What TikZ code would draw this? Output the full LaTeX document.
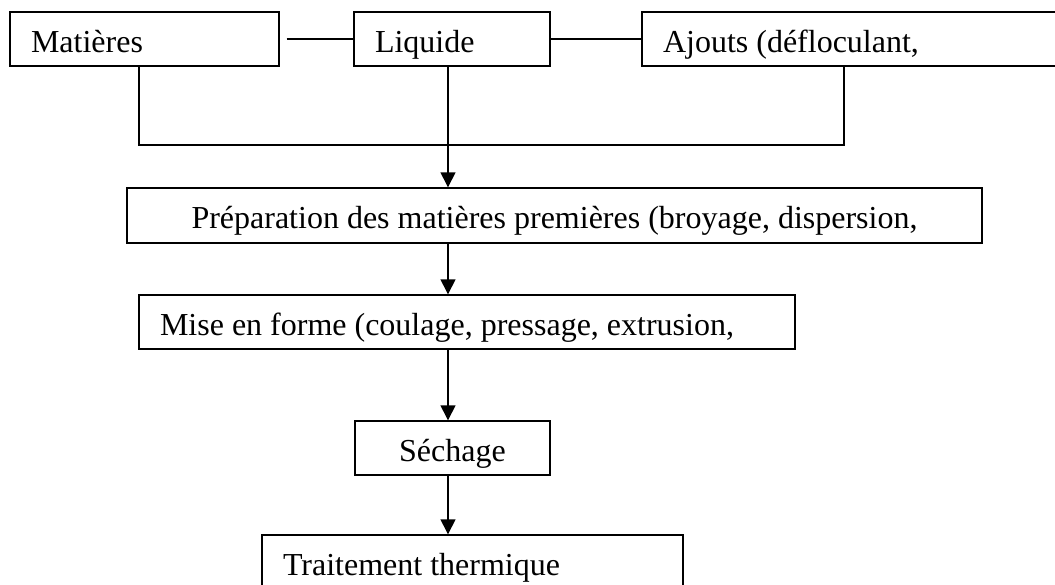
\documentclass[tikz,border=0pt]{standalone}
\usepackage{fontspec}
\setmainfont{Liberation Serif}
\usetikzlibrary{arrows.meta}
\newcommand{\lefttext}[2]{\makebox[#1][l]{#2}}
\begin{document}
\begin{tikzpicture}[x=1pt,y=-1pt,line width=1.4pt,
  box/.style={draw,rectangle,minimum height=54pt,inner ysep=0pt,
    font=\fontsize{32}{38}\selectfont,text height=31pt,text depth=5pt},
  lbox/.style={box,inner xsep=21pt},
  cbox/.style={box,inner xsep=0pt,minimum width=#1},
  arr/.style={-{Triangle[length=15pt,width=15pt]}}]
\clip (0,0) rectangle (1055,584);
\fill[white] (0,0) rectangle (1055,584);
% top row
\node[lbox] (mat) at (144.5,39) {\lefttext{227pt}{Matières}};
\node[lbox] (liq) at (452,39) {\lefttext{154pt}{Liquide}};
\node[lbox] (ajo) at (871,39) {\lefttext{416pt}{Ajouts (défloculant,}};
% process boxes
\node[cbox=855pt,minimum height=55pt] (prep) at (554.5,215.5) {Préparation des matières premières (broyage, dispersion,};
\node[lbox] (mise) at (467,322) {\lefttext{614pt}{Mise en forme (coulage, pressage, extrusion,}};
\node[cbox=195pt] (sech) at (452.5,448) {Séchage};
\node[lbox] (trait) at (472.5,562) {\lefttext{379pt}{Traitement thermique}};
% helper coordinates
\coordinate (spine) at (448,0);
\coordinate (jl) at (139,145);
\coordinate (jr) at (844,145);
% connectors
\draw ([xshift=7pt]mat.east) -- (liq.west);
\draw (liq.east) -- (ajo.west);
\draw (mat.south -| jl) -- (jl) -- (jr) -- (ajo.south -| jr);
\draw[arr] (liq.south -| spine) -- (prep.north -| spine);
\draw[arr] (prep.south -| spine) -- (mise.north -| spine);
\draw[arr] (mise.south -| spine) -- (sech.north -| spine);
\draw[arr] (sech.south -| spine) -- (trait.north -| spine);
\end{tikzpicture}
\end{document}
